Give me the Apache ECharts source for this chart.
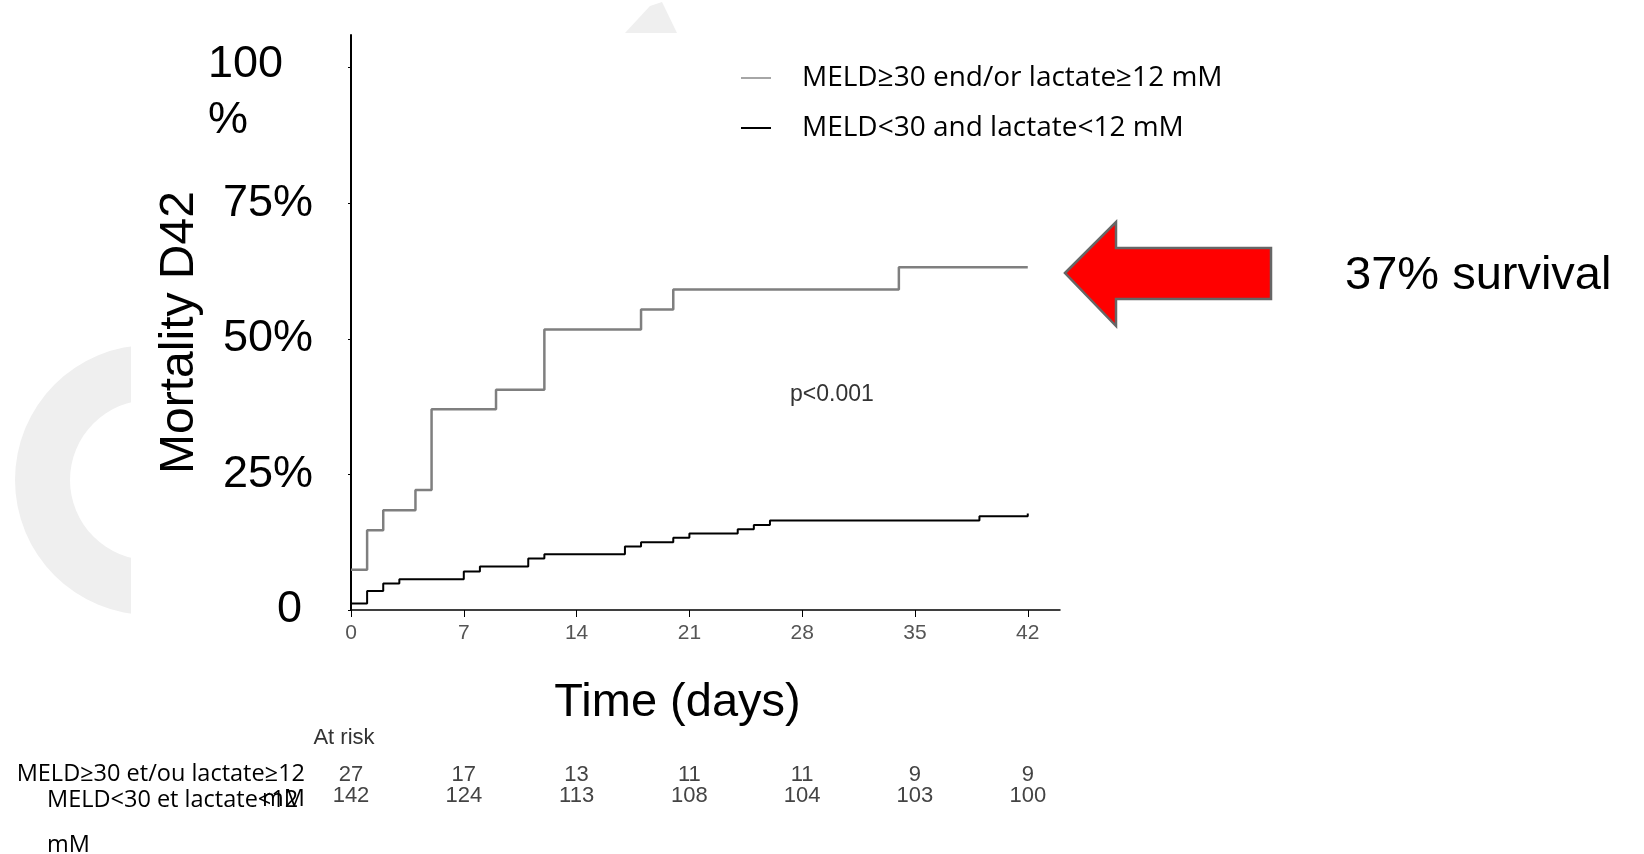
<!DOCTYPE html>
<html>
<head>
<meta charset="utf-8">
<title>Mortality D42</title>
<style>html,body{margin:0;padding:0;background:#fff;}</style>
</head>
<body>
<div id="main" style="width:1644px;height:854px;"></div>
<script src="https://cdn.jsdelivr.net/npm/echarts@6/dist/echarts.min.js"></script>
<script>
// legend names
var seriesNames = ['MELD≥30 end/or lactate≥12 mM', 'MELD<30 and lactate<12 mM'];

// Kaplan-Meier steps, [day, mortality %]
var highRisk = [[0, 7.4], [1, 14.7], [2, 18.4], [4, 22.1], [5, 37.0], [9, 40.6], [12, 51.7],
                [18, 55.4], [20, 59.1], [34, 63.2], [42, 63.2]];
var lowRisk = [[0, 1.2], [1, 3.5], [2, 4.9], [3, 5.65], [7, 7.1], [8, 8.0], [11, 9.5], [12, 10.3],
               [17, 11.7], [18, 12.5], [20, 13.3], [21, 14.1], [24, 14.9], [25, 15.65], [26, 16.5],
               [39, 17.3], [42, 17.3], [42, 17.8]];

var dayTicks = [0, 7, 14, 21, 28, 35, 42];
var pctTicks = [0, 25, 50, 75, 100];

// at risk table
var riskLabels = ['MELD≥30 et/ou lactate≥12\nmM', 'MELD<30 et lactate<12\nmM'];
var atRiskHigh = [27, 17, 13, 11, 11, 9, 9];
var atRiskLow = [142, 124, 113, 108, 104, 103, 100];

var arial = "'Liberation Sans', Arial, sans-serif";
var calibri = "'Open Sans', sans-serif";

var myChart = echarts.init(document.getElementById('main'));

function riskAxis(counts, offset) {
    return {
        type: 'value', gridIndex: 0, min: 0, max: 44, position: 'bottom', offset: offset,
        axisLine: { show: false, onZero: false }, axisTick: { show: false }, splitLine: { show: false },
        axisLabel: {
            customValues: dayTicks, margin: 0, verticalAlign: 'middle',
            fontSize: 22, color: '#444', fontFamily: arial,
            formatter: function (v) { return counts[dayTicks.indexOf(v)]; }
        }
    };
}

var option = {
    backgroundColor: '#fff',
    animation: false,
    grid: { left: 351, right: 584, top: 35, bottom: 244 },
    legend: {
        orient: 'vertical', left: 736, top: 58,
        icon: 'rect', itemWidth: 30, itemHeight: 2, itemGap: 20,
        textStyle: { fontSize: 28, lineHeight: 30, color: '#000', fontFamily: calibri, padding: [0, 0, 0, 26] },
        data: [
            { name: seriesNames[0], itemStyle: { color: '#a6a6a6' } },
            { name: seriesNames[1], itemStyle: { color: '#000' } }
        ]
    },
    xAxis: [{
        type: 'value', min: 0, max: 44,
        name: 'Time (days)', nameLocation: 'middle', nameGap: 70,
        nameTextStyle: { fontSize: 47, color: '#000', fontFamily: arial, padding: [0, 56, 0, 0] },
        axisLine: { lineStyle: { color: '#000', width: 1.5 } },
        axisTick: { customValues: dayTicks, length: 7, lineStyle: { color: '#000' } },
        axisLabel: { customValues: dayTicks, margin: 13, fontSize: 21, color: '#555', fontFamily: arial },
        splitLine: { show: false }
    }, riskAxis(atRiskHigh, 165), riskAxis(atRiskLow, 186)],
    yAxis: {
        type: 'value', min: 0, max: 106,
        name: 'Mortality D42', nameLocation: 'middle', nameRotate: 90, nameGap: 142,
        nameTextStyle: { fontSize: 48, color: '#000', fontFamily: arial, padding: [0, 20, 0, 0] },
        axisLine: { show: true, lineStyle: { color: '#000', width: 2 } },
        axisTick: { show: true, customValues: pctTicks, length: 3, lineStyle: { color: '#000' } },
        splitLine: { show: false },
        axisLabel: {
            customValues: pctTicks, margin: 38, fontSize: 45, color: '#000', fontFamily: arial,
            formatter: function (v) {
                if (v === 100) return '{a|100}\n{b|%}';
                if (v === 0) return '{z|0}';
                return v + '%';
            },
            rich: {
                a: { fontSize: 45, fontFamily: arial, lineHeight: 106, padding: [0, 30, 0, 0] },
                b: { fontSize: 45, fontFamily: arial, lineHeight: 6, padding: [0, 65, 0, 0] },
                z: { fontSize: 45, fontFamily: arial, padding: [0, 11, 0, 0] }
            }
        }
    },
    series: [{
        name: seriesNames[0], type: 'line', step: 'end', data: highRisk,
        symbol: 'none', lineStyle: { color: '#7f7f7f', width: 2.5 }, itemStyle: { color: '#7f7f7f' }
    }, {
        name: seriesNames[1], type: 'line', step: 'end', data: lowRisk,
        symbol: 'none', lineStyle: { color: '#000', width: 2 }, itemStyle: { color: '#000' }
    }],
    graphic: [
        // faint watermark behind the slide picture
        { type: 'ring', z: -20, shape: { cx: 150, cy: 480, r: 135, r0: 80 }, style: { fill: '#efefef' } },
        { type: 'polygon', z: -20, shape: { points: [[625, 33], [650, 6], [662, 2], [677, 33]] }, style: { fill: '#efefef' } },
        { type: 'rect', z: -10, shape: { x: 131, y: 33, width: 1513, height: 821 }, style: { fill: '#fff' } },
        { type: 'text', x: 790, y: 395, style: { text: 'p<0.001', font: '23px ' + arial, fill: '#333', verticalAlign: 'middle' } },
        {
            type: 'polygon',
            shape: { points: [[1065, 273], [1116, 222], [1116, 248], [1271, 248], [1271, 299], [1116, 299], [1116, 326]] },
            style: { fill: '#ff0000', stroke: '#666', lineWidth: 2.5 }
        },
        { type: 'text', x: 1345, y: 276, style: { text: '37% survival', font: '47px ' + arial, fill: '#000', verticalAlign: 'middle' } },
        { type: 'text', x: 344, y: 738, style: { text: 'At risk', font: '22px ' + arial, fill: '#333', align: 'center', verticalAlign: 'middle' } },
        { type: 'text', x: 305, y: 762, style: { text: riskLabels[0], font: '23.5px ' + calibri, lineHeight: 25, fill: '#000', align: 'right', verticalAlign: 'top' } },
        { type: 'text', x: 47, y: 778, style: { text: riskLabels[1], font: '23.5px ' + calibri, lineHeight: 45, fill: '#000', align: 'left', verticalAlign: 'top' } }
    ]
};

myChart.setOption(option);
</script>
</body>
</html>
